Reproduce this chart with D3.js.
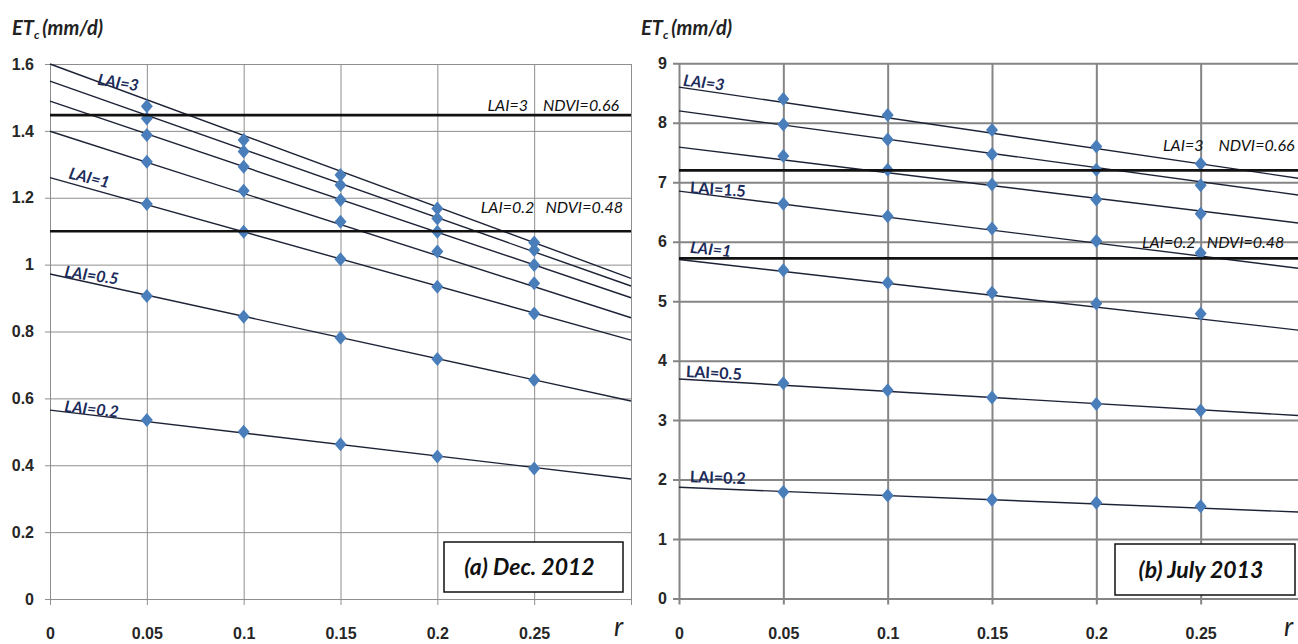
<!DOCTYPE html>
<html>
<head>
<meta charset="utf-8">
<script src="https://cdn.jsdelivr.net/npm/d3@7"></script>
<style>
body { margin: 0; background: #fff; overflow: hidden; }
svg { display: block; font-family: Lato, "Open Sans", sans-serif; }
</style>
</head>
<body>
<script>
var width = 1298;
var height = 644;

// r values of the computed points, LAI of each series
var rValues = [0.05, 0.1, 0.15, 0.2, 0.25];
var laiLevels = [3, 2.5, 2, 1.5, 1, 0.5, 0.2];
var xTicks = [0, 0.05, 0.1, 0.15, 0.2, 0.25, 0.3];

// (a) Dec. 2012
var decTicks = [0, 0.2, 0.4, 0.6, 0.8, 1, 1.2, 1.4, 1.6];
var decValues = [
  [1.474, 1.373, 1.268, 1.168, 1.066],
  [1.437, 1.338, 1.238, 1.138, 1.044],
  [1.388, 1.293, 1.193, 1.098, 0.999],
  [1.308, 1.221, 1.128, 1.039, 0.944],
  [1.181, 1.098, 1.016, 0.934, 0.854],
  [0.906, 0.844, 0.781, 0.718, 0.655],
  [0.535, 0.500, 0.463, 0.426, 0.390]
];
var decTrendStart = [1.600, 1.549, 1.489, 1.399, 1.260, 0.972, 0.565]; // r = 0
var decTrendEnd = [0.959, 0.936, 0.901, 0.841, 0.774, 0.592, 0.359];   // r = 0.3
var decNdviLevels = [1.447, 1.100];

// (b) July 2013
var julTicks = [0, 1, 2, 3, 4, 5, 6, 7, 8, 9];
var julValues = [
  [8.40, 8.13, 7.88, 7.60, 7.31],
  [7.97, 7.72, 7.47, 7.21, 6.95],
  [7.44, 7.21, 6.96, 6.71, 6.47],
  [6.64, 6.43, 6.22, 6.01, 5.81],
  [5.52, 5.31, 5.14, 4.96, 4.79],
  [3.62, 3.50, 3.38, 3.27, 3.16],
  [1.79, 1.73, 1.66, 1.61, 1.55]
];
var julTrendStart = [8.60, 8.20, 7.59, 6.85, 5.70, 3.69, 1.87];
var julTrendEnd = [7.05, 6.77, 6.30, 5.54, 4.50, 3.07, 1.45];
var julNdviLevels = [7.20, 5.72];

var ndviLabels = ["LAI=3    NDVI=0.66", "LAI=0.2   NDVI=0.48"];

var panels = [
  {
    values: decValues, start: decTrendStart, end: decTrendEnd, ndvi: decNdviLevels,
    yTicks: decTicks, yMax: 1.6, caption: "(a) Dec. 2012",
    left: 50, right: 631, top: 64, bottom: 599,
    yTick: 5, yPad: 11, grid: "#8e8e8e", gridW: 1,
    ndviAnchor: "end", ndviX: [619, 623], ndviDy: [-4, -18],
    box: [444, 542, 179, 50], rX: 614,
    labels: [
      {s: 0, r: 0.0243, dy: 3.5, rot: 9, italic: true},
      {s: 4, r: 0.0093, dy: -4.5, rot: 14, italic: true},
      {s: 5, r: 0.0072, dy: 0, rot: 8, italic: true},
      {s: 6, r: 0.0072, dy: 0, rot: 6, italic: true}
    ]
  },
  {
    values: julValues, start: julTrendStart, end: julTrendEnd, ndvi: julNdviLevels,
    yTicks: julTicks, yMax: 9, caption: "(b) July 2013",
    left: 679, right: 1305, top: 63.3, bottom: 598.5,
    yTick: 6, yPad: 6, grid: "#858585", gridW: 2,
    ndviAnchor: "start", ndviX: [1163, 1142], ndviDy: [-19, -10],
    box: [1115, 544, 180, 51], rX: 1284,
    labels: [
      {s: 0, r: 0.0018, dy: -2, rot: 7, italic: true},
      {s: 3, r: 0.0051, dy: 0.5, rot: 4, italic: false},
      {s: 4, r: 0.0051, dy: -8, rot: 6, italic: true},
      {s: 5, r: 0.0032, dy: -2.5, rot: 3, italic: false},
      {s: 6, r: 0.0051, dy: -5.5, rot: 2, italic: false}
    ]
  }
];

var svg = d3.select("body").append("svg")
  .attr("width", width)
  .attr("height", height);

var diamond = "M0,-7L6,0L0,7L-6,0Z";

panels.forEach(function(p) {
  var x = d3.scaleLinear().domain([0, 0.3]).range([p.left, p.right]);
  var y = d3.scaleLinear().domain([0, p.yMax]).range([p.bottom, p.top]);
  var g = svg.append("g");

  // vertical grid lines, ticks and r labels
  var xAxis = d3.axisBottom(x)
    .tickValues(xTicks)
    .tickSize(p.bottom - p.top + 6)
    .tickPadding(23)
    .tickFormat(function(d) { return d === 0.3 ? "" : d3.format("~g")(d); });
  var gx = g.append("g")
    .attr("transform", "translate(0," + p.top + ")")
    .call(xAxis);

  // horizontal grid lines and ETc labels
  var yAxis = d3.axisLeft(y)
    .tickValues(p.yTicks)
    .tickSize(p.right - p.left + p.yTick)
    .tickPadding(p.yPad)
    .tickFormat(d3.format("~g"));
  var gy = g.append("g")
    .attr("transform", "translate(" + p.right + ",0)")
    .call(yAxis);

  [gx, gy].forEach(function(a) {
    a.select(".domain").remove();
    a.selectAll("line").attr("stroke", p.grid).attr("stroke-width", p.gridW);
    a.selectAll("text")
      .attr("fill", "#262626")
      .style("font-size", "16px")
      .style("font-weight", "bold");
  });

  // trend lines
  var line = d3.line()
    .x(function(d) { return x(d[0]); })
    .y(function(d) { return y(d[1]); });
  g.selectAll(".trend")
    .data(p.values)
    .enter().append("path")
      .attr("class", "trend")
      .attr("fill", "none")
      .attr("stroke", "#1d2236")
      .attr("stroke-width", 1.4)
      .attr("d", function(d, i) { return line([[0, p.start[i]], [0.3, p.end[i]]]); });

  // points
  p.values.forEach(function(vals) {
    g.selectAll(null)
      .data(vals)
      .enter().append("path")
        .attr("d", diamond)
        .attr("fill", "#4a7ebb")
        .attr("transform", function(d, j) {
          return "translate(" + x(rValues[j]) + "," + y(d) + ")";
        });
  });

  // NDVI reference lines
  g.selectAll(".ndvi")
    .data(p.ndvi)
    .enter().append("line")
      .attr("class", "ndvi")
      .attr("x1", x(0)).attr("x2", x(0.3))
      .attr("y1", function(d) { return y(d); })
      .attr("y2", function(d) { return y(d); })
      .attr("stroke", "#111")
      .attr("stroke-width", 2.6);

  g.selectAll(".ndvi-label")
    .data(p.ndvi)
    .enter().append("text")
      .attr("x", function(d, i) { return p.ndviX[i]; })
      .attr("y", function(d, i) { return y(d) + p.ndviDy[i]; })
      .attr("text-anchor", p.ndviAnchor)
      .attr("fill", "#111")
      .style("font-size", "16px")
      .style("font-style", "italic")
      .style("white-space", "pre")
      .text(function(d, i) { return ndviLabels[i]; });

  // series labels
  g.selectAll(".lai")
    .data(p.labels)
    .enter().append("text")
      .attr("class", "lai")
      .attr("transform", function(d) {
        var v = p.start[d.s] + (p.end[d.s] - p.start[d.s]) * d.r / 0.3;
        return "translate(" + x(d.r) + "," + (y(v) + d.dy) + ") rotate(" + d.rot + ")";
      })
      .attr("fill", "#1b2b5a")
      .style("font-size", "16px")
      .style("font-weight", "bold")
      .style("font-style", function(d) { return d.italic ? "italic" : "normal"; })
      .text(function(d) { return "LAI=" + laiLevels[d.s]; });

  // caption box
  g.append("rect")
    .attr("x", p.box[0]).attr("y", p.box[1])
    .attr("width", p.box[2]).attr("height", p.box[3])
    .attr("fill", "#fff")
    .attr("stroke", "#111")
    .attr("stroke-width", 1.5);
  g.append("text")
    .attr("x", p.box[0] + p.box[2] / 2 - 4)
    .attr("y", p.box[1] + p.box[3] / 2 + 8)
    .attr("text-anchor", "middle")
    .attr("fill", "#111")
    .style("font-size", "23px")
    .style("font-weight", "bold")
    .style("font-style", "italic")
    .text(p.caption);

  // axis titles
  var t = g.append("text")
    .attr("x", p.left - 38)
    .attr("y", 35)
    .attr("fill", "#222")
    .style("font-size", "20px")
    .style("font-weight", "bold")
    .style("font-style", "italic");
  t.append("tspan").text("ET");
  t.append("tspan").attr("dy", 4).style("font-size", "12px").text("c");
  t.append("tspan").attr("dy", -4).attr("dx", 3).text("(mm/d)");

  g.append("text")
    .attr("x", p.rX)
    .attr("y", 636)
    .attr("fill", "#222")
    .style("font-size", "27px")
    .style("font-style", "italic")
    .text("r");
});
</script>
</body>
</html>
